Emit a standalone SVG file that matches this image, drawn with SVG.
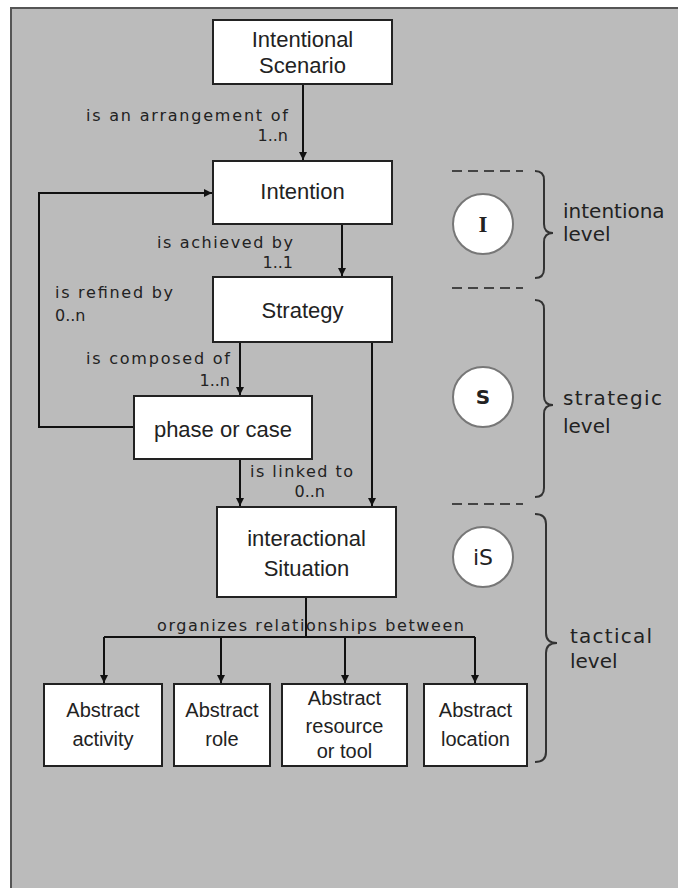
<svg xmlns="http://www.w3.org/2000/svg" width="678" height="888" viewBox="0 0 678 888">
<defs>
<marker id="ah" markerWidth="10" markerHeight="10" refX="9" refY="5" orient="auto" markerUnits="userSpaceOnUse">
<path d="M1,1 L9,5 L1,9 Z" fill="#111"/>
</marker>
<style>
.box{fill:#fff;stroke:#222;stroke-width:2}
.bt{font-family:"Liberation Sans",Arial,sans-serif;font-size:22px;fill:#222;text-anchor:middle}
.st{font-family:"Liberation Sans",Arial,sans-serif;font-size:20px;fill:#222;text-anchor:middle}
.lb{font-family:"DejaVu Sans",Verdana,sans-serif;font-size:16px;fill:#222}
.lv{font-family:"DejaVu Sans",Verdana,sans-serif;font-size:20px;fill:#222}
.ln{fill:none;stroke:#111;stroke-width:2}
.dash{stroke:#444;stroke-width:2;stroke-dasharray:10,6;fill:none}
.brace{fill:none;stroke:#333;stroke-width:2}
.circ{fill:#fff;stroke:#777;stroke-width:2}
</style>
</defs>
<rect x="0" y="0" width="678" height="888" fill="#fff"/>
<rect x="10" y="7" width="668" height="881" fill="#bbbbbb"/>
<path d="M11,888 V8 H678" fill="none" stroke="#555" stroke-width="2"/>

<g id="connectors">
<path class="ln" d="M303,84 V160" marker-end="url(#ah)"/>
<path class="ln" d="M342,224 V276" marker-end="url(#ah)"/>
<path class="ln" d="M240,342 V395" marker-end="url(#ah)"/>
<path class="ln" d="M372,342 V506" marker-end="url(#ah)"/>
<path class="ln" d="M240,459 V506" marker-end="url(#ah)"/>
<path class="ln" d="M134,427 H39 V193 H212" marker-end="url(#ah)"/>
<path class="ln" d="M306,597 V637"/>
<path class="ln" d="M104,637 H475"/>
<path class="ln" d="M104,637 V683" marker-end="url(#ah)"/>
<path class="ln" d="M221,637 V683" marker-end="url(#ah)"/>
<path class="ln" d="M345,637 V683" marker-end="url(#ah)"/>
<path class="ln" d="M475,637 V683" marker-end="url(#ah)"/>
<text class="lb" x="288" y="121" text-anchor="end" textLength="202">is an arrangement of</text>
<text class="lb" x="288" y="141" text-anchor="end">1..n</text>
<text class="lb" x="293" y="248" text-anchor="end" textLength="136">is achieved by</text>
<text class="lb" x="293" y="268" text-anchor="end">1..1</text>
<text class="lb" x="55" y="298" textLength="118">is refined by</text>
<text class="lb" x="55" y="321">0..n</text>
<text class="lb" x="230" y="364" text-anchor="end" textLength="144">is composed of</text>
<text class="lb" x="230" y="386" text-anchor="end">1..n</text>
<text class="lb" x="250" y="477" textLength="103">is linked to</text>
<text class="lb" x="325" y="497" text-anchor="end">0..n</text>
<text class="lb" x="157" y="631" textLength="307">organizes relationships between</text>
</g>

<g id="n-scenario">
<rect class="box" x="213" y="20" width="179" height="64"/>
<text class="bt" x="302.5" y="47">Intentional</text>
<text class="bt" x="302.5" y="73">Scenario</text>
</g>
<g id="n-intention">
<rect class="box" x="213" y="161" width="179" height="63"/>
<text class="bt" x="302.5" y="199">Intention</text>
</g>
<g id="n-strategy">
<rect class="box" x="213" y="277" width="179" height="65"/>
<text class="bt" x="302.5" y="318">Strategy</text>
</g>
<g id="n-phase">
<rect class="box" x="134" y="396" width="178" height="63"/>
<text class="bt" x="223" y="437">phase or case</text>
</g>
<g id="n-situation">
<rect class="box" x="217" y="507" width="179" height="90"/>
<text class="bt" x="306.5" y="546">interactional</text>
<text class="bt" x="306.5" y="576">Situation</text>
</g>
<g id="n-activity">
<rect class="box" x="44" y="684" width="118" height="82"/>
<text class="st" x="103" y="717">Abstract</text>
<text class="st" x="103" y="746">activity</text>
</g>
<g id="n-role">
<rect class="box" x="174" y="684" width="96" height="82"/>
<text class="st" x="222" y="717">Abstract</text>
<text class="st" x="222" y="746">role</text>
</g>
<g id="n-resource">
<rect class="box" x="282" y="684" width="125" height="82"/>
<text class="st" x="344.5" y="705">Abstract</text>
<text class="st" x="344.5" y="733">resource</text>
<text class="st" x="344.5" y="758">or tool</text>
</g>
<g id="n-location">
<rect class="box" x="424" y="684" width="103" height="82"/>
<text class="st" x="475.5" y="717">Abstract</text>
<text class="st" x="475.5" y="746">location</text>
</g>

<g id="levels">
<path class="dash" d="M452,171 H523"/>
<path class="dash" d="M452,288 H523"/>
<path class="dash" d="M452,504 H523"/>
<path class="brace" d="M535,171 Q544,171 544,180 V224 Q544,233 553,233 Q544,233 544,242 V269 Q544,278 535,278"/>
<path class="brace" d="M535,300 Q544,300 544,309 V396 Q544,405 553,405 Q544,405 544,414 V488 Q544,497 535,497"/>
<path class="brace" d="M535,514 Q546,514 546,524 V633 Q546,643 557,643 Q546,643 546,653 V752 Q546,762 535,762"/>
<g id="level-I">
<circle class="circ" cx="483" cy="224" r="30"/>
<text x="483" y="232" text-anchor="middle" font-family="'Liberation Serif',serif" font-weight="bold" font-size="23" fill="#222">I</text>
</g>
<g id="level-S">
<circle class="circ" cx="483" cy="397" r="30"/>
<text x="483" y="404" text-anchor="middle" font-family="'DejaVu Sans',sans-serif" font-weight="bold" font-size="20" fill="#222">S</text>
</g>
<g id="level-iS">
<circle class="circ" cx="483" cy="557" r="30"/>
<text x="483" y="565" text-anchor="middle" font-family="'DejaVu Sans',sans-serif" font-size="22" fill="#222">iS</text>
</g>
<text class="lv" x="563" y="218">intentiona</text>
<text class="lv" x="563" y="241">level</text>
<text class="lv" x="563" y="405" textLength="99">strategic</text>
<text class="lv" x="563" y="433">level</text>
<text class="lv" x="570" y="643" textLength="82">tactical</text>
<text class="lv" x="570" y="668">level</text>
</g>
</svg>
